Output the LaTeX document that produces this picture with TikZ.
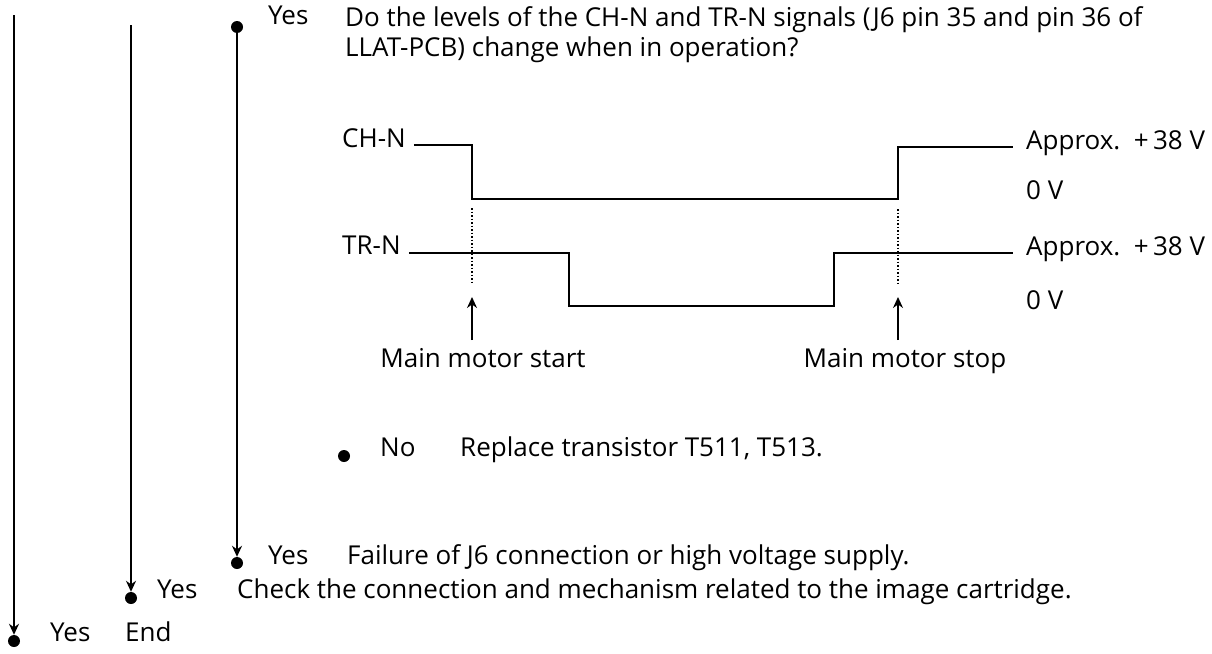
\documentclass[tikz,border=0pt]{standalone}
\usepackage{fontspec}
\setmainfont{Open Sans}
\usetikzlibrary{arrows.meta}
\begin{document}
\begin{tikzpicture}[>={Stealth[length=11pt,width=10pt]},x=1pt,y=-1pt,font=\fontsize{26}{30}\selectfont,
  dot/.style={circle,fill,inner sep=0pt,minimum size=12pt},
  txt/.style={anchor=mid west,inner sep=0pt},
  flow/.style={->,line width=1.8pt},
  sig/.style={line width=1.6pt}]
\useasboundingbox (0,0) rectangle (1212,653);

\coordinate (top1) at (14,15);
\coordinate (top2) at (131,25);
\node[dot] (d1) at (14,641) {};
\node[dot] (d2) at (131,598) {};
\node[dot] (q1) at (237,27) {};
\node[dot] (q2) at (237,563) {};
\node[dot] (no) at (344,456) {};

\draw[flow] (top1) -- (d1);
\draw[flow] (top2) -- (d2);
\draw[flow] (q1) -- (q2);

\node[txt] (yes1) at (268,22) {Yes};
\node[txt,align=left,anchor=north west] (ask) at (345,6) {Do the levels of the CH-N and TR-N signals (J6 pin 35 and pin 36 of\\LLAT-PCB) change when in operation?};

\node[txt] (chn) at (342,145) {CH-N};
\node[txt] (trn) at (342,252) {TR-N};
\node[txt] (hi1) at (1026,147) {Approx.\ \ +\,38 V};
\node[txt] (lo1) at (1026,197) {0 V};
\node[txt] (hi2) at (1026,253) {Approx.\ \ +\,38 V};
\node[txt] (lo2) at (1026,307) {0 V};

\draw[sig] ([xshift=8pt]chn.east |- 0,145) -| (472,199) -| (898,147) -- (1013,147);
\draw[sig] ([xshift=8pt]trn.east |- 0,253) -| (569,306) -| (834,253) -- (1013,253);
\draw[dotted,line width=1.5pt] (472,208) -- (472,284);
\draw[dotted,line width=1.5pt] (898,209) -- (898,285);

\node[anchor=mid] (mstart) at (483,365) {Main motor start};
\node[anchor=mid] (mstop) at (905,365) {Main motor stop};
\draw[->,line width=1.5pt] (472,340) -- (472,297);
\draw[->,line width=1.5pt] (898,340) -- (898,297);

\node[txt] (nolab) at (380,454) {No};
\node[txt] (repl) at (460,454) {Replace transistor T511, T513.};

\node[txt] (yes2) at (268,562) {Yes};
\node[txt] (fail) at (347,562) {Failure of J6 connection or high voltage supply.};

\node[txt] (yes3) at (157,596) {Yes};
\node[txt] (check) at (237,596) {Check the connection and mechanism related to the image cartridge.};

\node[txt] (yes4) at (50,639) {Yes};
\node[txt] (fin) at (125,639) {End};
\end{tikzpicture}
\end{document}
